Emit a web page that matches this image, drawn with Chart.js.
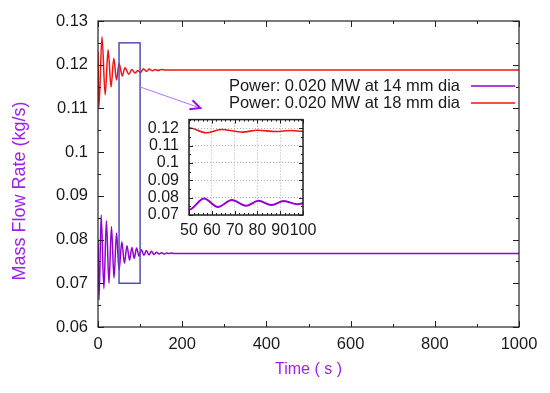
<!DOCTYPE html>
<html>
<head>
<meta charset="utf-8">
<script src="https://cdn.jsdelivr.net/npm/chart.js@4.4.1/dist/chart.umd.min.js"></script>
<style>
  html, body { margin: 0; padding: 0; background: #fff; }
  #wrap { position: relative; width: 550px; height: 393px; }
  #mainChart { position: absolute; left: 0; top: 0; }
  #insetChart { position: absolute; left: 130px; top: 100px; }
</style>
</head>
<body>
<div id="wrap">
  <canvas id="mainChart" width="550" height="393"></canvas>
  <canvas id="insetChart" width="200" height="150"></canvas>
</div>
<script>
// Series (time in s, mass flow rate in kg/s)
const time14mm = [0, 2.5, 7.5, 14, 20, 26, 32, 38, 44, 50, 56.6, 62.7, 68.8, 75, 80.5, 86, 91.6, 97.5,
    103, 109, 115, 121, 127, 133, 139, 145, 151, 157, 163, 169, 175, 181, 190, 200, 400, 600, 800, 1000];
const flow14mm = [0.0800, 0.0662, 0.0856, 0.0688, 0.0843, 0.0700, 0.0830, 0.0712, 0.0815, 0.0730,
    0.0795, 0.0746, 0.0786, 0.0753, 0.0782, 0.0757, 0.0781, 0.0762,
    0.0777, 0.0764, 0.0775, 0.0765, 0.0773, 0.0766, 0.0771, 0.0767,
    0.0770, 0.0767, 0.0769, 0.0768, 0.0769, 0.0768, 0.0768, 0.0768, 0.0768, 0.0768, 0.0768, 0.0768];

const time18mm = [0, 2, 9.5, 17, 24, 31, 37.5, 44, 50, 57.5, 64, 73.5, 80, 88, 94.5, 101,
    108, 115, 122, 129, 136, 143, 150, 160, 200, 400, 600, 800, 1000];
const flow18mm = [0.1230, 0.1100, 0.1264, 0.1131, 0.1234, 0.1149, 0.1215, 0.1165, 0.1203,
    0.1174, 0.1193, 0.1178, 0.1189, 0.1181, 0.1187, 0.1182,
    0.1191, 0.1185, 0.1190, 0.1186, 0.1189, 0.1187, 0.1189, 0.1188, 0.1188, 0.1188, 0.1188, 0.1188, 0.1188];

const legendLabels = ['Power: 0.020 MW at 14 mm dia', 'Power: 0.020 MW at 18 mm dia'];
const xTitle = 'Time ( s )';
const yTitle = 'Mass Flow Rate (kg/s)';

// Zoomed window shown in the inset
const insetTime = [50, 100];
const insetFlow = [0.07, 0.125];
// Arrow from the zoom box to the inset (data units of the main chart)
const arrowFrom = [100, 0.1149];
const arrowTo = [243, 0.1101];

const FONT = '"Liberation Sans", Arial, Helvetica, sans-serif';
const PURPLE = '#9400d3';
const RED = '#f01414';
const TITLE_COLOR = '#a020f0';
const BOX_BLUE = '#5050b4';
const TEXT = '#1a1a1a';

function toPoints(xs, ys) {
    return xs.map((t, i) => ({ x: t, y: ys[i] }));
}

function fmt(v) {
    return String(+v.toFixed(3));
}

// gnuplot style: frame plus inward ticks on all four sides
function drawFrame(chart, o) {
    const { ctx, chartArea: a, scales: { x, y } } = chart;
    ctx.save();
    ctx.strokeStyle = '#222';
    ctx.lineWidth = 1;
    ctx.beginPath();
    const n = Math.round((x.max - x.min) / o.xMinor);
    for (let i = 0; i <= n; i++) {
        const px = Math.round(x.getPixelForValue(x.min + i * o.xMinor)) + 0.5;
        const len = i % o.xRatio === 0 ? o.major : o.minor;
        ctx.moveTo(px, a.bottom); ctx.lineTo(px, a.bottom - len);
        ctx.moveTo(px, a.top); ctx.lineTo(px, a.top + len);
    }
    const m = Math.round((y.max - y.min) / o.yMinor);
    for (let i = 0; i <= m; i++) {
        const py = Math.round(y.getPixelForValue(y.min + i * o.yMinor)) + 0.5;
        const len = i % o.yRatio === 0 ? o.major : o.minor;
        ctx.moveTo(a.left, py); ctx.lineTo(a.left + len, py);
        ctx.moveTo(a.right, py); ctx.lineTo(a.right - len, py);
    }
    ctx.stroke();
    ctx.lineWidth = o.frameWidth;
    ctx.strokeStyle = '#222';
    ctx.strokeRect(a.left, a.top, a.right - a.left, a.bottom - a.top);
    ctx.restore();
}

const mainDecor = {
    id: 'mainDecor',
    beforeDraw(chart) {
        const { ctx } = chart;
        ctx.save();
        ctx.fillStyle = '#fff';
        ctx.fillRect(0, 0, chart.width, chart.height);
        ctx.restore();
    },
    afterDatasetsDraw(chart) {
        const { ctx, chartArea: a, scales: { x, y } } = chart;
        ctx.save();

        // zoom box
        const bx0 = x.getPixelForValue(insetTime[0]);
        const bx1 = x.getPixelForValue(insetTime[1]);
        const by0 = y.getPixelForValue(insetFlow[1]);
        const by1 = y.getPixelForValue(insetFlow[0]);
        ctx.strokeStyle = BOX_BLUE;
        ctx.lineWidth = 1.5;
        ctx.strokeRect(bx0, by0, bx1 - bx0, by1 - by0);

        // arrow
        const ax0 = x.getPixelForValue(arrowFrom[0]), ay0 = y.getPixelForValue(arrowFrom[1]);
        const ax1 = x.getPixelForValue(arrowTo[0]), ay1 = y.getPixelForValue(arrowTo[1]);
        ctx.strokeStyle = '#b870ff';
        ctx.lineWidth = 1;
        ctx.beginPath(); ctx.moveTo(ax0, ay0); ctx.lineTo(ax1, ay1); ctx.stroke();
        const ang = Math.atan2(ay1 - ay0, ax1 - ax0);
        ctx.strokeStyle = '#9a10e8';
        ctx.lineWidth = 2;
        ctx.beginPath();
        ctx.moveTo(ax1 - 11 * Math.cos(ang - 0.45), ay1 - 11 * Math.sin(ang - 0.45));
        ctx.lineTo(ax1, ay1);
        ctx.lineTo(ax1 - 11 * Math.cos(ang + 0.45), ay1 - 11 * Math.sin(ang + 0.45));
        ctx.stroke();

        // legend
        ctx.font = '16.5px ' + FONT;
        ctx.fillStyle = TEXT;
        ctx.textAlign = 'right';
        ctx.textBaseline = 'middle';
        [PURPLE, RED].forEach((c, i) => {
            const ly = a.top + 65 + i * 17;
            ctx.fillText(legendLabels[i], a.right - 59, ly);
            ctx.strokeStyle = c;
            ctx.lineWidth = 1.5;
            ctx.beginPath(); ctx.moveTo(a.right - 48, ly); ctx.lineTo(a.right - 4, ly); ctx.stroke();
        });

        // axis titles
        ctx.fillStyle = TITLE_COLOR;
        ctx.textAlign = 'center';
        ctx.font = '16px ' + FONT;
        ctx.fillText(xTitle, (a.left + a.right) / 2, 370);
        ctx.translate(20, 191);
        ctx.rotate(-Math.PI / 2);
        ctx.font = '18px ' + FONT;
        ctx.fillText(yTitle, 0, 0);
        ctx.restore();

        drawFrame(chart, { xMinor: 100, xRatio: 2, yMinor: 0.005, yRatio: 2, major: 6, minor: 3, frameWidth: 1.2 });
    }
};

const insetDecor = {
    id: 'insetDecor',
    afterDatasetsDraw(chart) {
        drawFrame(chart, { xMinor: 2, xRatio: 5, yMinor: 0.005, yRatio: 2, major: 4, minor: 2, frameWidth: 1.5 });
    }
};

const mainChart = new Chart(document.getElementById('mainChart'), {
    type: 'line',
    data: {
        datasets: [
            { label: legendLabels[0], data: toPoints(time14mm, flow14mm), borderColor: PURPLE, borderWidth: 1.5,
              pointRadius: 0, cubicInterpolationMode: 'monotone', fill: false },
            { label: legendLabels[1], data: toPoints(time18mm, flow18mm), borderColor: RED, borderWidth: 1.5,
              pointRadius: 0, cubicInterpolationMode: 'monotone', fill: false }
        ]
    },
    options: {
        responsive: false,
        animation: false,
        devicePixelRatio: 1,
        layout: { padding: { left: 0, top: 21, right: 31, bottom: 0 } },
        plugins: { legend: { display: false }, tooltip: { enabled: false } },
        scales: {
            x: {
                type: 'linear', min: 0, max: 1000,
                ticks: { stepSize: 200, color: TEXT, font: { family: FONT, size: 16.5 }, padding: 8, maxRotation: 0,
                         callback: v => String(v) },
                grid: { display: false, drawTicks: false },
                border: { display: false },
                afterFit: s => { s.height = 66; }
            },
            y: {
                min: 0.06, max: 0.13,
                ticks: { stepSize: 0.01, color: TEXT, font: { family: FONT, size: 16.5 }, padding: 10, callback: fmt },
                grid: { display: false, drawTicks: false },
                border: { display: false },
                afterFit: s => { s.width = 98; }
            }
        }
    },
    plugins: [mainDecor]
});

const insetChart = new Chart(document.getElementById('insetChart'), {
    type: 'line',
    data: {
        datasets: [
            { data: toPoints(time14mm, flow14mm), borderColor: PURPLE, borderWidth: 2,
              pointRadius: 0, cubicInterpolationMode: 'monotone', fill: false },
            { data: toPoints(time18mm, flow18mm), borderColor: RED, borderWidth: 1.6,
              pointRadius: 0, cubicInterpolationMode: 'monotone', fill: false }
        ]
    },
    options: {
        responsive: false,
        animation: false,
        devicePixelRatio: 1,
        layout: { padding: { left: 0, top: 16, right: 27, bottom: 0 } },
        plugins: { legend: { display: false }, tooltip: { enabled: false } },
        scales: {
            x: {
                type: 'linear', min: insetTime[0], max: insetTime[1],
                ticks: { stepSize: 10, autoSkip: false, maxRotation: 0, color: TEXT,
                         font: { family: FONT, size: 16 }, padding: 6, callback: v => String(v) },
                grid: { color: '#b0b0b0', drawTicks: false, lineWidth: 1 },
                border: { display: false, dash: [1, 2] },
                afterFit: s => { s.height = 35; }
            },
            y: {
                min: insetFlow[0], max: insetFlow[1],
                ticks: { stepSize: 0.01, includeBounds: false, autoSkip: false, color: TEXT,
                         font: { family: FONT, size: 16 }, padding: 10, callback: fmt },
                grid: { color: '#b0b0b0', drawTicks: false, lineWidth: 1 },
                border: { display: false, dash: [1, 2] },
                afterFit: s => { s.width = 59; }
            }
        }
    },
    plugins: [insetDecor]
});
</script>
</body>
</html>
